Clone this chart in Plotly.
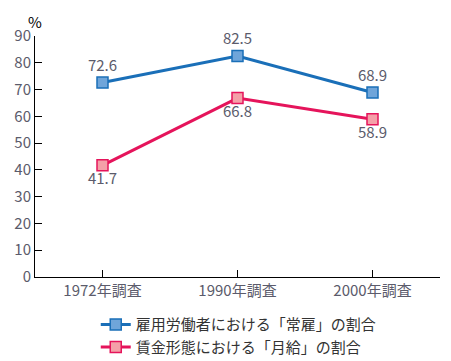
import plotly.graph_objects as go

categories = ["1972年調査", "1990年調査", "2000年調査"]
joyo = [72.6, 82.5, 68.9]
gekkyu = [41.7, 66.8, 58.9]
joyo_name = "雇用労働者における「常雇」の割合"
gekkyu_name = "賃金形態における「月給」の割合"
y_ticks = list(range(0, 91, 10))

FONT = "Noto Sans CJK JP, Noto Sans, sans-serif"
TXT = "#5b5b6b"

fig = go.Figure()
fig.add_trace(go.Scatter(
    x=categories, y=joyo, name=joyo_name,
    mode="lines+markers+text",
    text=[f"{v:.1f}" for v in joyo],
    textposition="top center",
    textfont=dict(color=TXT, size=15, family=FONT),
    line=dict(color="#1a6fb8", width=3),
    marker=dict(symbol="square", size=11, color="#6fa5da",
                line=dict(color="#1a6fb8", width=1.5)),
    cliponaxis=False,
))
fig.add_trace(go.Scatter(
    x=categories, y=gekkyu, name=gekkyu_name,
    mode="lines+markers+text",
    text=[f"{v:.1f}" for v in gekkyu],
    textposition="bottom center",
    textfont=dict(color=TXT, size=15, family=FONT),
    line=dict(color="#e5145b", width=3),
    marker=dict(symbol="square", size=11, color="#f4a0a8",
                line=dict(color="#e5145b", width=1.5)),
    cliponaxis=False,
))

fig.update_layout(
    width=443, height=353,
    margin=dict(l=27, r=11, t=28, b=84, autoexpand=False),
    plot_bgcolor="white", paper_bgcolor="white",
    font=dict(family=FONT, size=15, color=TXT),
    showlegend=True,
    legend=dict(x=0.15, y=-0.13, xanchor="left", yanchor="top",
                font=dict(size=15, color="#333333", family=FONT),
                tracegroupgap=0, itemwidth=30,
                bgcolor="rgba(0,0,0,0)"),
    xaxis=dict(type="category", range=[-0.5, 2.5], showgrid=False,
               showline=True, linecolor="black", linewidth=1,
               ticks="inside", ticklen=7, tickcolor="black",
               tickfont=dict(color=TXT, size=15, family=FONT)),
    yaxis=dict(range=[0, 90], tickvals=y_ticks, showgrid=False,
               showline=True, linecolor="black", linewidth=1,
               ticks="inside", ticklen=7, tickcolor="black",
               zeroline=False,
               tickfont=dict(color=TXT, size=15, family=FONT)),
    annotations=[dict(text="%", x=0, y=1, xref="paper", yref="paper",
                      xanchor="center", yanchor="bottom", showarrow=False,
                      yshift=2, font=dict(size=15, color="black", family=FONT))],
)

fig.write_html("out.html")
